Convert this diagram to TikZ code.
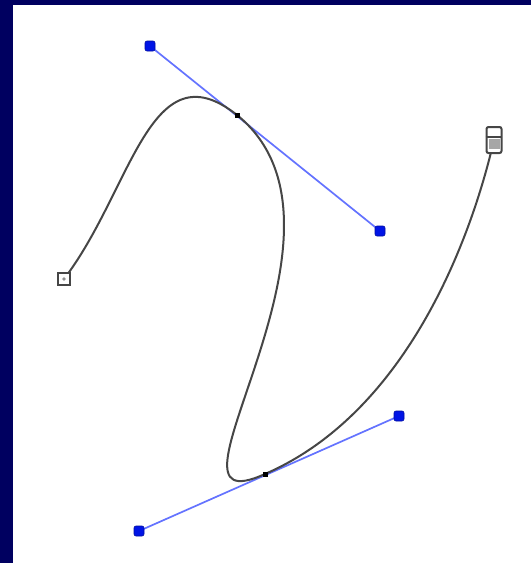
\documentclass[tikz,border=0pt]{standalone}
\definecolor{navy}{RGB}{0,0,96}
\definecolor{handlec}{RGB}{100,115,255}
\definecolor{knobc}{RGB}{0,20,230}
\definecolor{curvec}{RGB}{70,70,70}
\tikzset{
  handleline/.style={draw=handlec, line width=1.7pt},
  curveline/.style={draw=curvec, line width=2pt},
  knob/.style={rectangle, rounded corners=2pt, minimum size=10pt, inner sep=0pt, fill=knobc, draw=knobc!70!black, line width=0.6pt},
  tdot/.style={rectangle, minimum size=5pt, inner sep=0pt, fill=black},
  endsq/.style={rectangle, minimum size=12pt, inner sep=0pt, draw=curvec, line width=2.2pt, fill=white},
  endsqtall/.style={rectangle, rounded corners=2pt, minimum width=15pt, minimum height=26pt, inner sep=0pt, draw=curvec, line width=2pt, fill=white},
}
\begin{document}
\begin{tikzpicture}[x=1pt,y=-1pt]
\useasboundingbox (0,0) rectangle (531,563);
\fill[white] (0,0) rectangle (531,563);
\fill[navy] (0,0) rectangle (531,5);
\fill[navy] (0,0) rectangle (13,563);
% points
\coordinate (S) at (64,279);
\coordinate (C1) at (132,190);
\coordinate (P1) at (150,46);
\coordinate (T1) at (237,115);
\coordinate (P2) at (380,231);
\coordinate (P4) at (139,531);
\coordinate (T2) at (265,474);
\coordinate (P3) at (399,416);
\coordinate (C2) at (467,256);
\coordinate (E) at (494,140);
% handle lines
\draw[handleline] (P1) -- (P2);
\draw[handleline] (P4) -- (P3);
% curve
\draw[curveline] (S) .. controls (C1) and (P1) .. (T1)
  .. controls (P2) and (P4) .. (T2)
  .. controls (P3) and (C2) .. (E);
% knobs
\node[knob] (k1) at (P1) {};
\node[knob] (k2) at (P2) {};
\node[knob] (k3) at (P3) {};
\node[knob] (k4) at (P4) {};
% tangent points
\node[tdot] (t1) at (T1) {};
\node[tdot] (t2) at (T2) {};
% end markers
\node[endsq] (s) at (S) {};
\fill[curvec!60] (S) circle (1.8pt);
\node[endsqtall] (e) at (E) {};
\fill[black!35] ([shift={(3,-1)}]e.west) rectangle ([shift={(-3,9)}]e.east);
\draw[curvec, line width=2pt] (e.west) ++(0,-3) -- ++(15,0);
\end{tikzpicture}
\end{document}
